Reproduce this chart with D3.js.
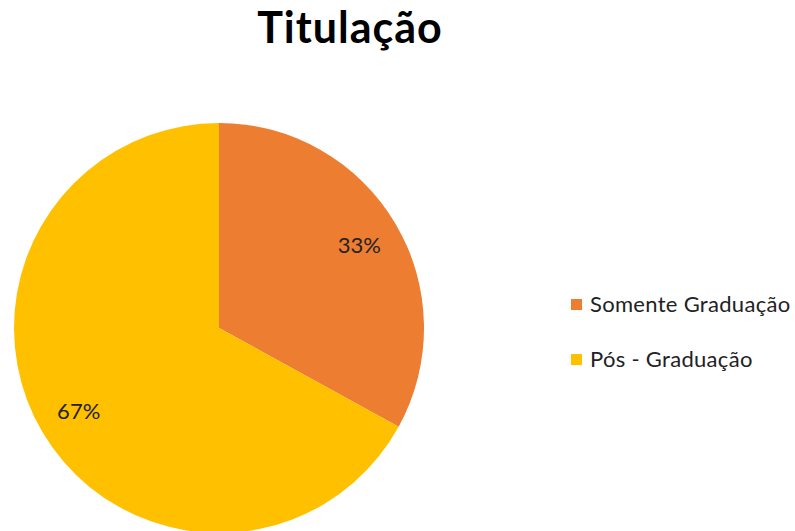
<!DOCTYPE html>
<html>
<head>
<meta charset="utf-8">
<script src="https://cdn.jsdelivr.net/npm/d3@7"></script>
<style>
  html, body { margin: 0; padding: 0; background: #fff; }
  svg { display: block; font-family: Lato, "Open Sans", sans-serif; }
</style>
</head>
<body>
<div id="chart"></div>
<script>
// ── data ──────────────────────────────────────────────
const categories = ["Somente Graduação", "Pós - Graduação"];
const values     = [33, 67];
const labels     = ["33%", "67%"];
const colours    = ["#ED7D31", "#FFC000"];
const title      = "Titulação";

const W = 795, H = 531;
const CX = 219, CY = 328, R = 205;

const svg = d3.select("#chart").append("svg").attr("width", W).attr("height", H);

// Title
svg.append("text")
  .attr("x", 350).attr("y", 43)
  .attr("text-anchor", "middle")
  .attr("font-size", 43).attr("font-weight", "bold").attr("fill", "#000")
  .attr("letter-spacing", 1)
  .text(title);

// Pie
const pie = d3.pie().sort(null).value(d => d)(values);
const arc = d3.arc().innerRadius(0).outerRadius(R);
const labelArc = d3.arc().innerRadius(163).outerRadius(163);

const g = svg.append("g").attr("transform", `translate(${CX},${CY})`);

g.selectAll("path").data(pie).join("path")
  .attr("d", arc)
  .attr("fill", (d, i) => colours[i]);

g.selectAll("text").data(pie).join("text")
  .attr("transform", d => `translate(${labelArc.centroid(d)})`)
  .attr("text-anchor", "middle")
  .attr("dy", "0.35em")
  .attr("font-size", 22).attr("fill", "#222")
  .text((d, i) => labels[i]);

// Legend
const legend = svg.append("g").attr("transform", "translate(571,304)");
const row = legend.selectAll("g").data(categories).join("g")
  .attr("transform", (d, i) => `translate(0,${i * 55})`);
row.append("rect")
  .attr("x", 0).attr("y", -5).attr("width", 11).attr("height", 11)
  .attr("fill", (d, i) => colours[i]);
row.append("text")
  .attr("x", 19).attr("y", 0).attr("dy", "0.35em")
  .attr("font-size", 22).attr("fill", "#222")
  .attr("letter-spacing", 0.3)
  .text(d => d);
</script>
</body>
</html>
